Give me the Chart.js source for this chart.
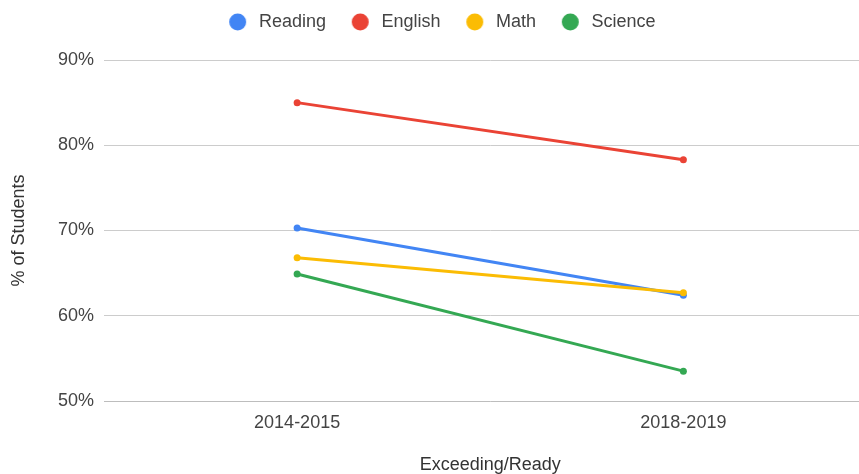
<!DOCTYPE html>
<html>
<head>
<meta charset="utf-8">
<script src="https://cdn.jsdelivr.net/npm/chart.js@4.4.1/dist/chart.umd.min.js"></script>
<style>
  html, body { margin: 0; padding: 0; background: #ffffff; overflow: hidden; width: 859px; height: 474px; }
  #wrap { position: absolute; left: 0; top: 0; width: 880px; height: 474px; }
</style>
</head>
<body>
<div id="wrap"><canvas id="chart" width="880" height="474"></canvas></div>
<script>
const categories = ['2014-2015', '2018-2019'];
const seriesNames = ['Reading', 'English', 'Math', 'Science'];
const reading = [70.3, 62.4];
const english = [85.0, 78.3];
const math = [66.8, 62.7];
const science = [64.9, 53.5];
const yTicks = [50, 60, 70, 80, 90];
const xTitle = 'Exceeding/Ready';
const yTitle = '% of Students';

const colors = ['#4285F4', '#EA4335', '#FBBC04', '#34A853'];
const values = [reading, english, math, science];
const FONT = "'Liberation Sans', Arial, sans-serif";

function legendDot(color) {
  const c = document.createElement('canvas');
  c.width = 34; c.height = 18;
  const g = c.getContext('2d');
  g.fillStyle = color;
  g.beginPath();
  g.arc(21.5, 9, 8.5, 0, Math.PI * 2);
  g.fill();
  return c;
}
const dots = colors.map(legendDot);

const datasets = seriesNames.map((name, i) => ({
  label: name,
  data: values[i],
  borderColor: colors[i],
  backgroundColor: colors[i],
  borderWidth: 3,
  pointRadius: 3.5,
  pointHoverRadius: 3.5,
  pointBorderWidth: 0,
  pointBackgroundColor: colors[i],
  tension: 0,
  order: seriesNames.length - i
}));

const legendSpacer = {
  id: 'legendSpacer',
  beforeInit(chart) {
    const lg = chart.legend;
    const origFit = lg.fit;
    lg.fit = function () {
      origFit.bind(lg)();
      this.height += 19;
    };
    const origDraw = lg.draw;
    lg.draw = function () {
      const ctx = chart.ctx;
      ctx.save();
      ctx.translate(-4, 0);
      origDraw.bind(lg)();
      ctx.restore();
    };
  }
};

new Chart(document.getElementById('chart'), {
  type: 'line',
  data: { labels: categories, datasets },
  plugins: [legendSpacer],
  options: {
    responsive: false,
    animation: false,
    devicePixelRatio: 1,
    layout: { padding: 0 },
    plugins: {
      tooltip: { enabled: false },
      legend: {
        position: 'top',
        align: 'center',
        labels: {
          usePointStyle: true,
          pointStyleWidth: 33.5,
          boxHeight: 18,
          padding: 13,
          color: '#444444',
          font: { family: FONT, size: 18 },
          sort: (a, b) => a.datasetIndex - b.datasetIndex,
          generateLabels(chart) {
            const items = Chart.defaults.plugins.legend.labels.generateLabels(chart);
            items.forEach(it => { it.pointStyle = dots[it.datasetIndex]; });
            return items;
          }
        }
      }
    },
    scales: {
      x: {
        type: 'category',
        offset: true,
        grid: { display: false, drawTicks: false },
        border: { display: false },
        ticks: {
          color: '#444444',
          font: { family: FONT, size: 18 },
          padding: 11,
          maxRotation: 0
        },
        title: {
          display: true,
          text: xTitle,
          color: '#333333',
          font: { family: FONT, size: 18, lineHeight: 1 },
          padding: { top: 11.4, bottom: 0 }
        }
      },
      y: {
        min: yTicks[0],
        max: yTicks[yTicks.length - 1],
        afterBuildTicks(scale) { scale.ticks = yTicks.map(v => ({ value: v })); },
        afterFit(scale) { scale.width = 104; },
        grid: {
          drawTicks: false,
          color: ctx => (ctx.tick && ctx.tick.value === yTicks[0]) ? '#bdbdbd' : '#cccccc',
          lineWidth: 1
        },
        border: { display: false },
        ticks: {
          color: '#444444',
          font: { family: FONT, size: 18 },
          padding: 10,
          callback: v => v + '%'
        },
        title: {
          display: true,
          text: yTitle,
          color: '#333333',
          font: { family: FONT, size: 18, lineHeight: 1 },
          padding: { top: 10, bottom: 0 }
        }
      }
    }
  }
});
</script>
</body>
</html>
